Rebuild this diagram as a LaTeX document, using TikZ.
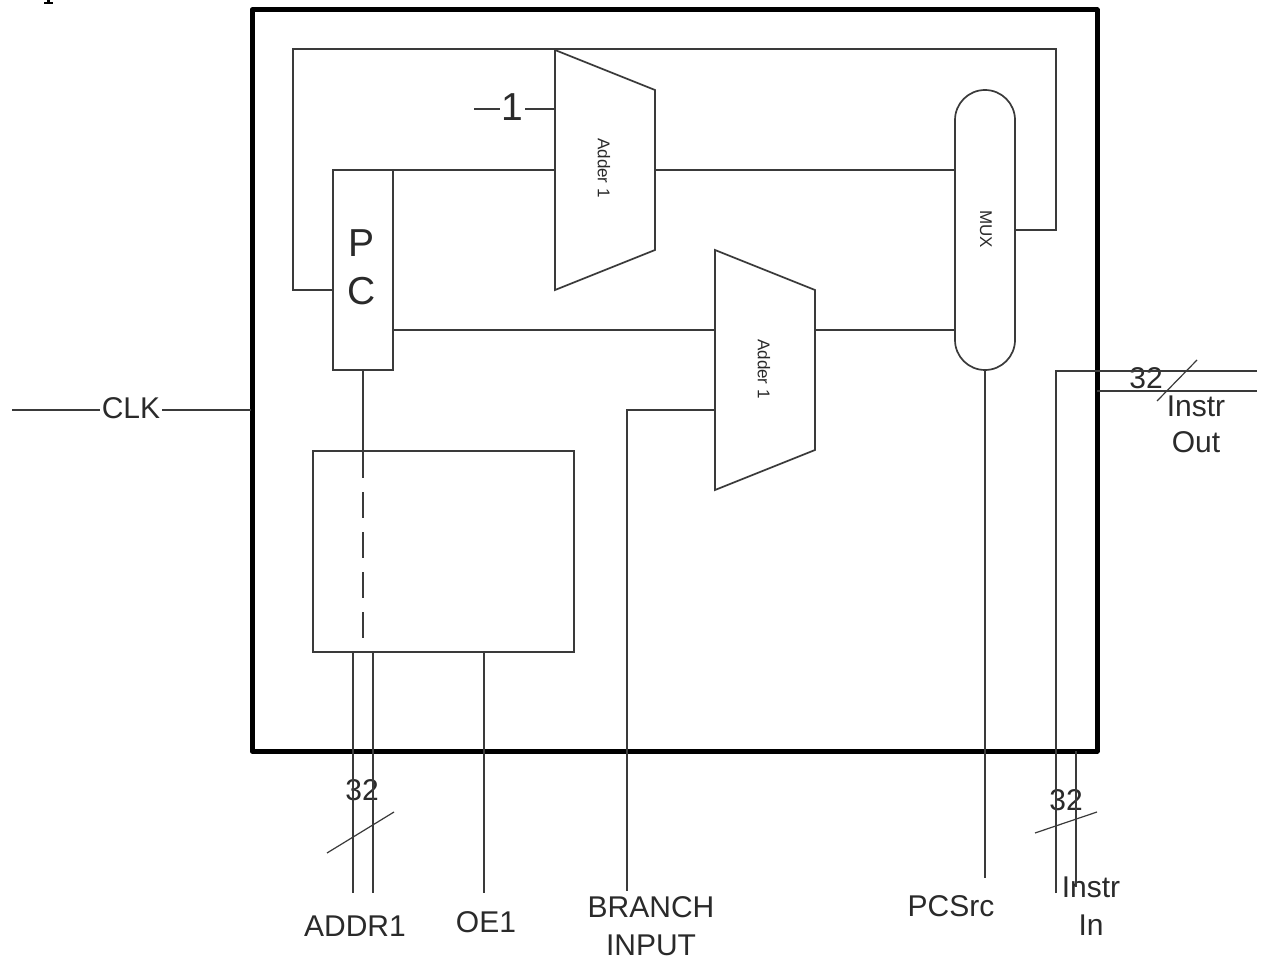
\documentclass[tikz,border=0pt]{standalone}
\usepackage{fontspec}
\setmainfont{Liberation Sans}
\definecolor{wire}{HTML}{3A3A3A}
\definecolor{ink}{HTML}{2A2A2A}
\tikzset{
  wireline/.style={draw=wire,line width=1.7pt,line join=miter},
  thinslash/.style={draw=wire,line width=1.2pt},
  boxnode/.style={draw=wire,line width=1.7pt,inner sep=0pt,outer sep=0pt},
  lab/.style={inner sep=0pt,outer sep=0pt,text=ink,font=\fontsize{30}{30}\selectfont,align=center},
  biglab/.style={inner sep=0pt,outer sep=0pt,text=ink,font=\fontsize{39}{39}\selectfont},
  smalllab/.style={inner sep=0pt,outer sep=0pt,text=ink,rotate=-90,font=\fontsize{17}{17}\selectfont},
  adder/.style={draw=wire,line width=1.7pt,line join=miter}
}
\begin{document}
\begin{tikzpicture}[x=1pt,y=-1pt]
\useasboundingbox (0,0) rectangle (1263,957);
\fill[white] (0,0) rectangle (1263,957);
% clipped descender of the cut-off line above the figure
\fill[black] (47,0) rectangle (49.5,3.5);
\fill[black] (44,2.5) rectangle (52.5,3.6);
% outer block
\node[draw=black,line width=5pt,inner sep=0pt,outer sep=0pt,minimum width=845pt,minimum height=741pt,line join=round] (outer) at (674.5,380.5) {};
% boxes
\node[boxnode,minimum width=60pt,minimum height=200pt] (pc) at (363,270) {};
\node[boxnode,minimum width=261pt,minimum height=201pt] (mem) at (443.5,551.5) {};
\node[boxnode,minimum width=60pt,minimum height=280pt,rounded corners=30pt] (mux) at (985,230) {};
% adders
\coordinate (a1a) at (555,50); \coordinate (a1b) at (655,90); \coordinate (a1c) at (655,250); \coordinate (a1d) at (555,290);
\coordinate (a2a) at (715,250); \coordinate (a2b) at (815,290); \coordinate (a2c) at (815,450); \coordinate (a2d) at (715,490);
\draw[adder] (a1a) -- (a1b) -- (a1c) -- (a1d) -- cycle;
\draw[adder] (a2a) -- (a2b) -- (a2c) -- (a2d) -- cycle;
\node[smalllab] (a1lab) at (604,168) {Adder 1};
\node[smalllab] (a2lab) at (764,369) {Adder 1};
\node[smalllab] (muxlab) at (986,229) {MUX};
\node[biglab] (p) at (362,243) {P};
\node[biglab] (c) at (362,291) {C};
\node[biglab] (one) at (512,107) {1};
% named connector points
\coordinate (a1in1) at (555,109); \coordinate (a1in2) at (555,170); \coordinate (a1out) at (655,170);
\coordinate (a2in1) at (715,330); \coordinate (a2in2) at (715,410); \coordinate (a2out) at (815,330);
\coordinate (muxin1) at (955,170); \coordinate (muxin2) at (955,330); \coordinate (muxout) at (1015,230);
\coordinate (pcout1) at (393,170); \coordinate (pcout2) at (393,330); \coordinate (pcfb) at (333,290);
\coordinate (fb1) at (293,290); \coordinate (fb2) at (293,49); \coordinate (fb3) at (1056,49); \coordinate (fb4) at (1056,230);
% feedback
\draw[wireline] (pcfb) -- (fb1) -- (fb2) -- (fb3) -- (fb4) -- (muxout);
% data path
\draw[wireline] (pcout1) -- (a1in2);
\draw[wireline] (a1out) -- (muxin1);
\draw[wireline] (pcout2) -- (a2in1);
\draw[wireline] (a2out) -- (muxin2);
\coordinate (oneL) at (474,109);
\coordinate (oneLe) at (500,109);
\coordinate (oneRs) at (525,109);
\draw[wireline] (oneL) -- (oneLe);
\draw[wireline] (oneRs) -- (a1in1);
% PC to memory
\coordinate (dash1) at (363,452); \coordinate (dash2) at (363,638);
\draw[wireline] (pc.south) -- (mem.north -| pc.south);
\draw[wireline,dash pattern=on 26pt off 14pt] (dash1) -- (dash2);
% bottom labels
\node[lab] (addr) at (355,926) {ADDR1};
\node[lab] (oe) at (486,922) {OE1};
\node[lab] (branch) at (651,926) {BRANCH\\[8pt]INPUT};
\node[lab] (pcsrc) at (951,906) {PCSrc};
\node[lab] (instrin) at (1091,906) {Instr\\[8pt]In};
\node[lab] (instrout) at (1196,424) {Instr\\[6pt]Out};
\node[lab] (clk) at (131,408) {CLK};
\node[lab] (n32a) at (362,790) {32};
\node[lab] (n32b) at (1066,800) {32};
\node[lab] (n32c) at (1146,378) {32};
% bus pins
\coordinate (ad1t) at (353,652); \coordinate (ad1b) at (353,893);
\coordinate (ad2t) at (373,652); \coordinate (ad2b) at (373,893);
\coordinate (oet) at (484,652); \coordinate (oeb) at (484,893);
\draw[wireline] (ad1t) -- (ad1b);
\draw[wireline] (ad2t) -- (ad2b);
\draw[wireline] (oet) -- (oeb);
% branch input
\coordinate (br1) at (627,410); \coordinate (br2) at (627,891);
\draw[wireline] (a2in2) -- (br1) -- (br2);
% pcsrc
\coordinate (ps) at (985,878);
\draw[wireline] (mux.south) -- (ps);
% instr bus
\coordinate (ii1) at (1056,893); \coordinate (ii2) at (1056,371); \coordinate (ii3) at (1257,371);
\coordinate (ii4) at (1076,751); \coordinate (ii5) at (1076,887);
\coordinate (io1) at (1097,391); \coordinate (io2) at (1257,391);
\draw[wireline] (ii1) -- (ii2) -- (ii3);
\draw[wireline] (ii4) -- (ii5);
\draw[wireline] (io1) -- (io2);
% clk
\coordinate (cl) at (12,410); \coordinate (cle) at (100,410); \coordinate (crs) at (162,410); \coordinate (cr) at (251,410);
\draw[wireline] (cl) -- (cle);
\draw[wireline] (crs) -- (cr);
% bus slashes
\coordinate (s1a) at (327,853); \coordinate (s1b) at (394,812);
\coordinate (s2a) at (1035,833); \coordinate (s2b) at (1097,812);
\coordinate (s3a) at (1157,401); \coordinate (s3b) at (1197,360);
\draw[thinslash] (s1a) -- (s1b);
\draw[thinslash] (s2a) -- (s2b);
\draw[thinslash] (s3a) -- (s3b);
\end{tikzpicture}
\end{document}
